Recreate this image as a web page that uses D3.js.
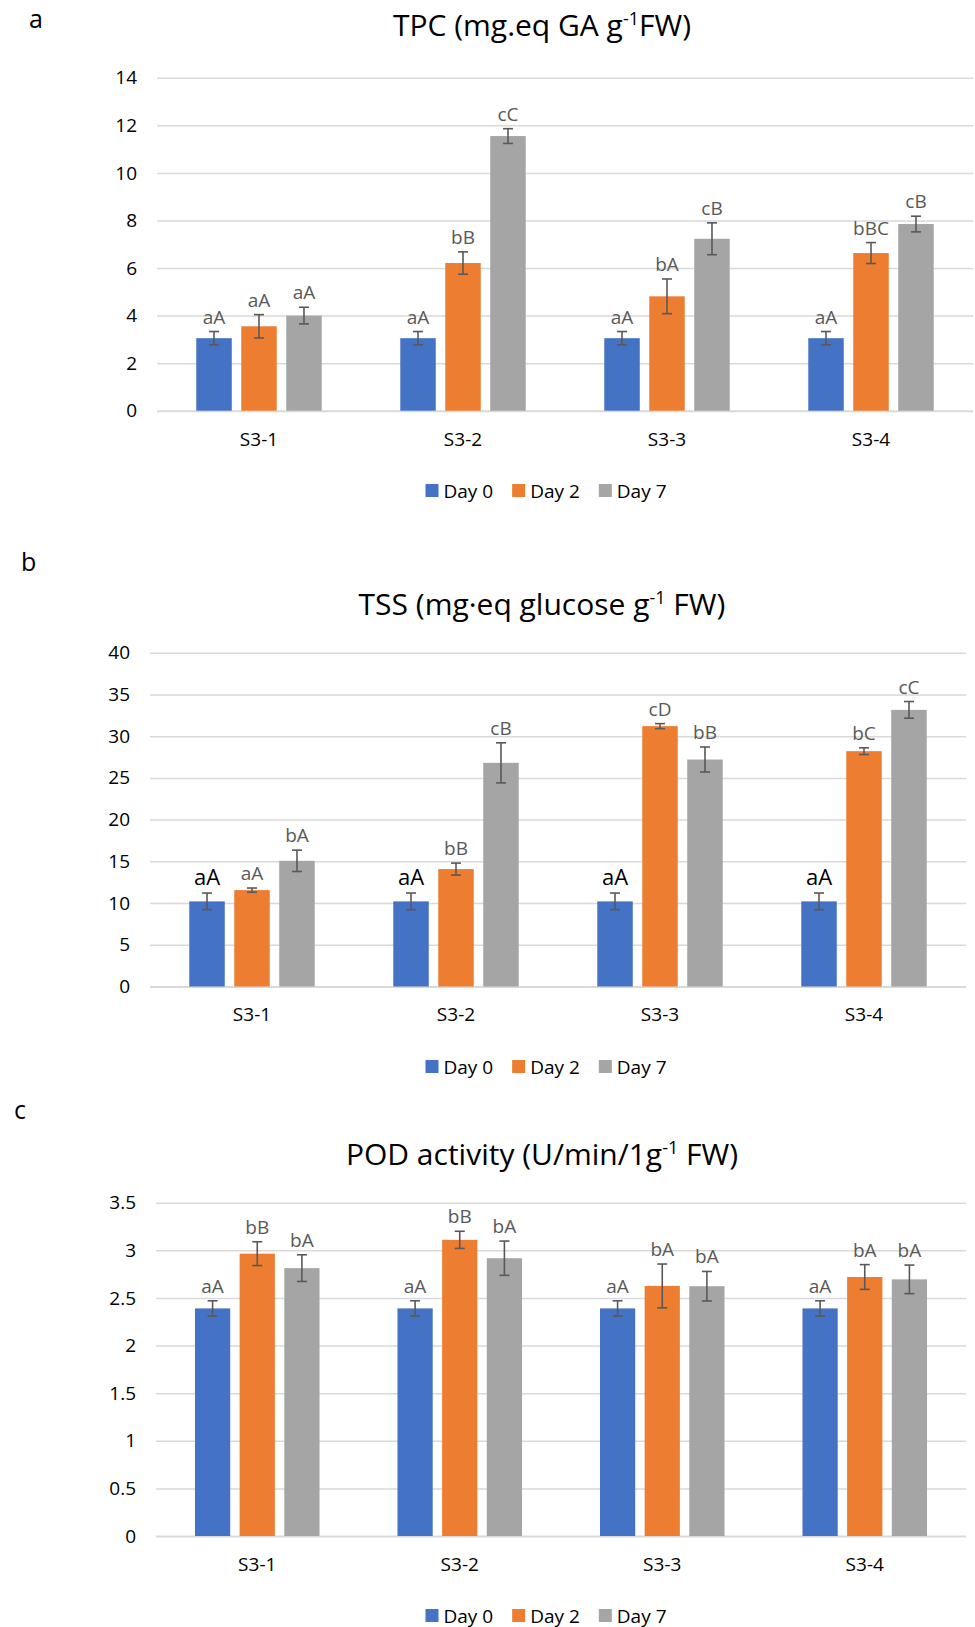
<!DOCTYPE html>
<html lang="en">
<head>
    <meta charset="UTF-8">
    <title>TPC, TSS and POD</title>
    <script src="https://d3js.org/d3.v7.min.js"></script>
    <style>
        body {
            margin: 0;
            background: #ffffff;
            font-family: "Open Sans", sans-serif;
        }
        svg text {
            font-family: "Open Sans", sans-serif;
        }
    </style>
</head>
<body>
    <div id="chart"></div>

    <script>
        const categories = ["S3-1", "S3-2", "S3-3", "S3-4"];
        const seriesNames = ["Day 0", "Day 2", "Day 7"];
        const seriesColors = ["#4472C4", "#ED7D31", "#A5A5A5"];

        // a) TPC
        const tpcTicks = [0, 2, 4, 6, 8, 10, 12, 14];
        const tpcValues = [
            [3.05, 3.05, 3.05, 3.05],
            [3.55, 6.21, 4.81, 6.63],
            [4.00, 11.55, 7.23, 7.85]
        ];
        const tpcErrors = [
            [0.28, 0.28, 0.28, 0.28],
            [0.49, 0.47, 0.73, 0.44],
            [0.35, 0.31, 0.67, 0.33]
        ];
        const tpcLetters = [
            ["aA", "aA", "aA", "aA"],
            ["aA", "bB", "bA", "bBC"],
            ["aA", "cC", "cB", "cB"]
        ];

        // b) TSS
        const tssTicks = [0, 5, 10, 15, 20, 25, 30, 35, 40];
        const tssValues = [
            [10.2, 10.2, 10.2, 10.2],
            [11.55, 14.07, 31.2, 28.2],
            [15.06, 26.8, 27.2, 33.15]
        ];
        const tssErrors = [
            [1.0, 1.0, 1.0, 1.0],
            [0.25, 0.72, 0.3, 0.4],
            [1.28, 2.4, 1.5, 1.0]
        ];
        const tssLetters = [
            ["aA", "aA", "aA", "aA"],
            ["aA", "bB", "cD", "bC"],
            ["bA", "cB", "bB", "cC"]
        ];

        // c) POD
        const podTicks = [0, 0.5, 1, 1.5, 2, 2.5, 3, 3.5];
        const podValues = [
            [2.39, 2.39, 2.39, 2.39],
            [2.965, 3.11, 2.626, 2.72],
            [2.813, 2.917, 2.623, 2.695]
        ];
        const podErrors = [
            [0.08, 0.08, 0.08, 0.08],
            [0.125, 0.09, 0.23, 0.13],
            [0.14, 0.18, 0.155, 0.15]
        ];
        const podLetters = [
            ["aA", "aA", "aA", "aA"],
            ["bB", "bB", "bA", "bA"],
            ["bA", "bA", "bA", "bA"]
        ];

        const width = 975;
        const height = 1627;

        const svg = d3.select("#chart")
            .append("svg")
            .attr("width", width)
            .attr("height", height);

        const panels = [
            {
                tag: "a", tagX: 29, tagY: 28,
                title: ["TPC (mg.eq GA g", "-1", "FW)"], titleY: 36,
                ticks: tpcTicks, values: tpcValues, errors: tpcErrors, letters: tpcLetters,
                top: 77.8, bottom: 410.7, left: 157, right: 973,
                catY: 446, legendY: 490.5, bigDay0: false
            },
            {
                tag: "b", tagX: 21, tagY: 571,
                title: ["TSS (mg·eq glucose g", "-1", " FW)"], titleY: 615,
                ticks: tssTicks, values: tssValues, errors: tssErrors, letters: tssLetters,
                top: 652.7, bottom: 986.5, left: 150, right: 966,
                catY: 1021, legendY: 1066.5, bigDay0: true
            },
            {
                tag: "c", tagX: 14, tagY: 1119,
                title: ["POD activity (U/min/1g", "-1", " FW)"], titleY: 1165,
                ticks: podTicks, values: podValues, errors: podErrors, letters: podLetters,
                top: 1202.7, bottom: 1536, left: 156, right: 966,
                catY: 1571, legendY: 1615.5, bigDay0: false
            }
        ];

        panels.forEach(p => drawPanel(p));

        function drawPanel(p) {
            const g = svg.append("g");

            // panel letter
            g.append("text")
                .attr("x", p.tagX)
                .attr("y", p.tagY)
                .attr("font-size", 25)
                .attr("fill", "#000")
                .text(p.tag);

            // title with superscript
            const title = g.append("text")
                .attr("x", 542)
                .attr("y", p.titleY)
                .attr("text-anchor", "middle")
                .attr("font-size", 30)
                .attr("fill", "#000");
            title.append("tspan").text(p.title[0]);
            title.append("tspan").attr("font-size", 18).attr("dy", -11).text(p.title[1]);
            title.append("tspan").attr("dy", 11).text(p.title[2]);

            const y = d3.scaleLinear()
                .domain([0, d3.max(p.ticks)])
                .range([p.bottom, p.top]);

            const x0 = d3.scaleBand()
                .domain(categories)
                .range([p.left, p.right])
                .paddingInner(0.385)
                .paddingOuter(0.1925);

            const x1 = d3.scaleBand()
                .domain(seriesNames)
                .range([0, x0.bandwidth()])
                .paddingInner(0.211);

            // gridlines
            const yAxis = d3.axisLeft(y)
                .tickValues(p.ticks)
                .tickSize(-(p.right - p.left))
                .tickPadding(20)
                .tickFormat(d3.format(""));

            const axisG = g.append("g")
                .attr("transform", `translate(${p.left},0)`)
                .call(yAxis);
            axisG.select(".domain").remove();
            axisG.selectAll(".tick line")
                .attr("stroke", "#D9D9D9")
                .attr("stroke-width", d => d === 0 ? 2 : 1.5);
            axisG.selectAll(".tick text")
                .attr("font-size", 19)
                .attr("fill", "#000")
                .attr("x", -20);

            // x category labels
            g.append("g")
                .selectAll("text")
                .data(categories)
                .join("text")
                .attr("x", d => x0(d) + x0.bandwidth() / 2)
                .attr("y", p.catY)
                .attr("text-anchor", "middle")
                .attr("font-size", 19)
                .attr("fill", "#000")
                .text(d => d);

            // flatten data
            const rows = [];
            seriesNames.forEach((s, si) => {
                categories.forEach((c, ci) => {
                    rows.push({
                        series: s, si: si, cat: c,
                        value: p.values[si][ci],
                        err: p.errors[si][ci],
                        letter: p.letters[si][ci]
                    });
                });
            });

            // bars
            g.append("g")
                .selectAll("rect")
                .data(rows)
                .join("rect")
                .attr("x", d => x0(d.cat) + x1(d.series))
                .attr("width", x1.bandwidth())
                .attr("y", d => y(d.value))
                .attr("height", d => y(0) - y(d.value))
                .attr("fill", d => seriesColors[d.si]);

            // error bars
            const errG = g.append("g")
                .attr("stroke", "#595959")
                .attr("stroke-width", 1.6);
            const cx = d => x0(d.cat) + x1(d.series) + x1.bandwidth() / 2;

            errG.selectAll(".err-v")
                .data(rows)
                .join("line")
                .attr("class", "err-v")
                .attr("x1", cx).attr("x2", cx)
                .attr("y1", d => y(d.value + d.err))
                .attr("y2", d => y(d.value - d.err));
            errG.selectAll(".err-top")
                .data(rows)
                .join("line")
                .attr("class", "err-top")
                .attr("x1", d => cx(d) - 5).attr("x2", d => cx(d) + 5)
                .attr("y1", d => y(d.value + d.err))
                .attr("y2", d => y(d.value + d.err));
            errG.selectAll(".err-bot")
                .data(rows)
                .join("line")
                .attr("class", "err-bot")
                .attr("x1", d => cx(d) - 5).attr("x2", d => cx(d) + 5)
                .attr("y1", d => y(d.value - d.err))
                .attr("y2", d => y(d.value - d.err));

            // letter labels
            g.append("g")
                .selectAll("text")
                .data(rows)
                .join("text")
                .attr("x", cx)
                .attr("y", d => y(d.value + d.err) - 8)
                .attr("text-anchor", "middle")
                .attr("font-size", d => (p.bigDay0 && d.si === 0) ? 22 : 19)
                .attr("fill", d => (p.bigDay0 && d.si === 0) ? "#000" : "#595959")
                .text(d => d.letter);

            // legend, centred on the chart area
            const legend = g.append("g");
            const items = legend.selectAll("g")
                .data(seriesNames)
                .join("g");
            items.append("rect")
                .attr("width", 13)
                .attr("height", 13)
                .attr("y", p.legendY - 6.5)
                .attr("fill", (d, i) => seriesColors[i]);
            items.append("text")
                .attr("x", 18)
                .attr("y", p.legendY + 7)
                .attr("font-size", 19)
                .attr("fill", "#000")
                .text(d => d);

            let offset = 0;
            const gap = 19;
            items.each(function () {
                const w = this.getBBox().width;
                d3.select(this).attr("transform", `translate(${offset},0)`);
                offset += w + gap;
            });
            const total = offset - gap;
            legend.attr("transform", `translate(${546 - total / 2},0)`);
        }
    </script>
</body>
</html>
